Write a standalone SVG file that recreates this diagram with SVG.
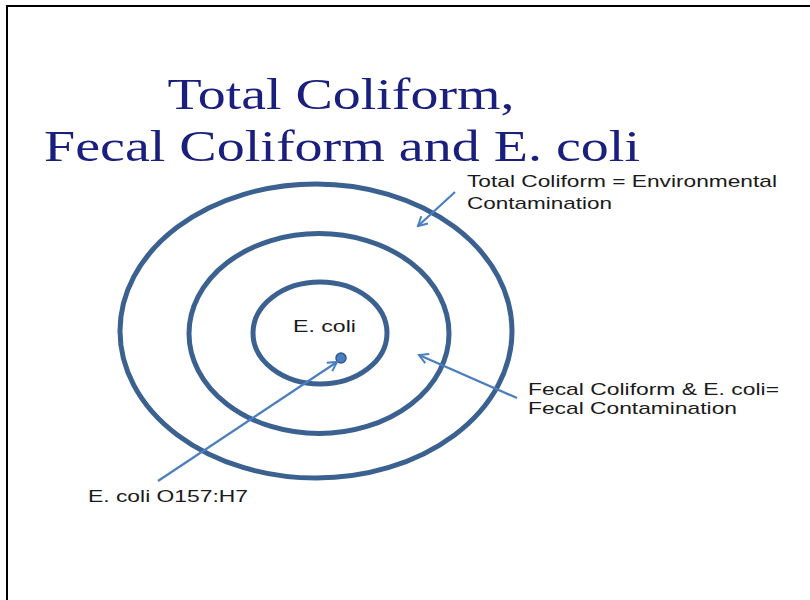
<svg xmlns="http://www.w3.org/2000/svg" width="810" height="600" viewBox="0 0 810 600">
<defs>
<style>
.ring{fill:none;stroke:#3b6190;stroke-width:5}
.lbl{font-family:"Liberation Sans",Arial,sans-serif;font-size:17px;fill:#1a1a1a}
.title{font-family:"Liberation Serif","Times New Roman",serif;font-size:44px;fill:#1a1f7e;text-anchor:middle}
.conn{stroke:#4a7ebf;stroke-width:2.2;fill:none;marker-end:url(#ah)}
</style>
<marker id="ah" viewBox="0 0 12 12" refX="10" refY="6" markerWidth="12" markerHeight="12" markerUnits="userSpaceOnUse" orient="auto">
<polyline points="1,1 10,6 1,11" fill="none" stroke="#4a7ebf" stroke-width="2"/>
</marker>
</defs>
<rect x="0" y="0" width="810" height="600" fill="#fff"/>
<rect x="7" y="6" width="812" height="610" fill="none" stroke="#000" stroke-width="2"/>
<g id="title">
<text class="title" x="341" y="109" textLength="347" lengthAdjust="spacingAndGlyphs">Total Coliform,</text>
<text class="title" x="342" y="161" textLength="596" lengthAdjust="spacingAndGlyphs">Fecal Coliform and E. coli</text>
</g>
<g id="total-coliform">
<ellipse class="ring" cx="316" cy="331" rx="196" ry="147"/>
<text class="lbl" x="467" y="187" textLength="310" lengthAdjust="spacingAndGlyphs">Total Coliform = Environmental</text>
<text class="lbl" x="467" y="209" textLength="145" lengthAdjust="spacingAndGlyphs">Contamination</text>
</g>
<g id="fecal-coliform">
<ellipse class="ring" cx="319" cy="333.5" rx="130" ry="100"/>
<text class="lbl" x="528" y="395" textLength="251" lengthAdjust="spacingAndGlyphs">Fecal Coliform &amp; E. coli=</text>
<text class="lbl" x="528" y="414" textLength="209" lengthAdjust="spacingAndGlyphs">Fecal Contamination</text>
</g>
<g id="e-coli">
<ellipse class="ring" cx="320" cy="333" rx="67" ry="51"/>
<text class="lbl" x="293" y="332" textLength="63" lengthAdjust="spacingAndGlyphs">E. coli</text>
</g>
<g id="o157">
<circle cx="341" cy="358" r="5" fill="#4a7ebf" stroke="#2f5a8a" stroke-width="1.5"/>
<text class="lbl" x="88" y="502" textLength="160" lengthAdjust="spacingAndGlyphs">E. coli O157:H7</text>
</g>
<g id="connectors">
<line class="conn" x1="455" y1="192" x2="418" y2="226"/>
<line class="conn" x1="517" y1="398" x2="419" y2="355"/>
<line class="conn" x1="158" y1="481" x2="337" y2="362"/>
</g>
</svg>
